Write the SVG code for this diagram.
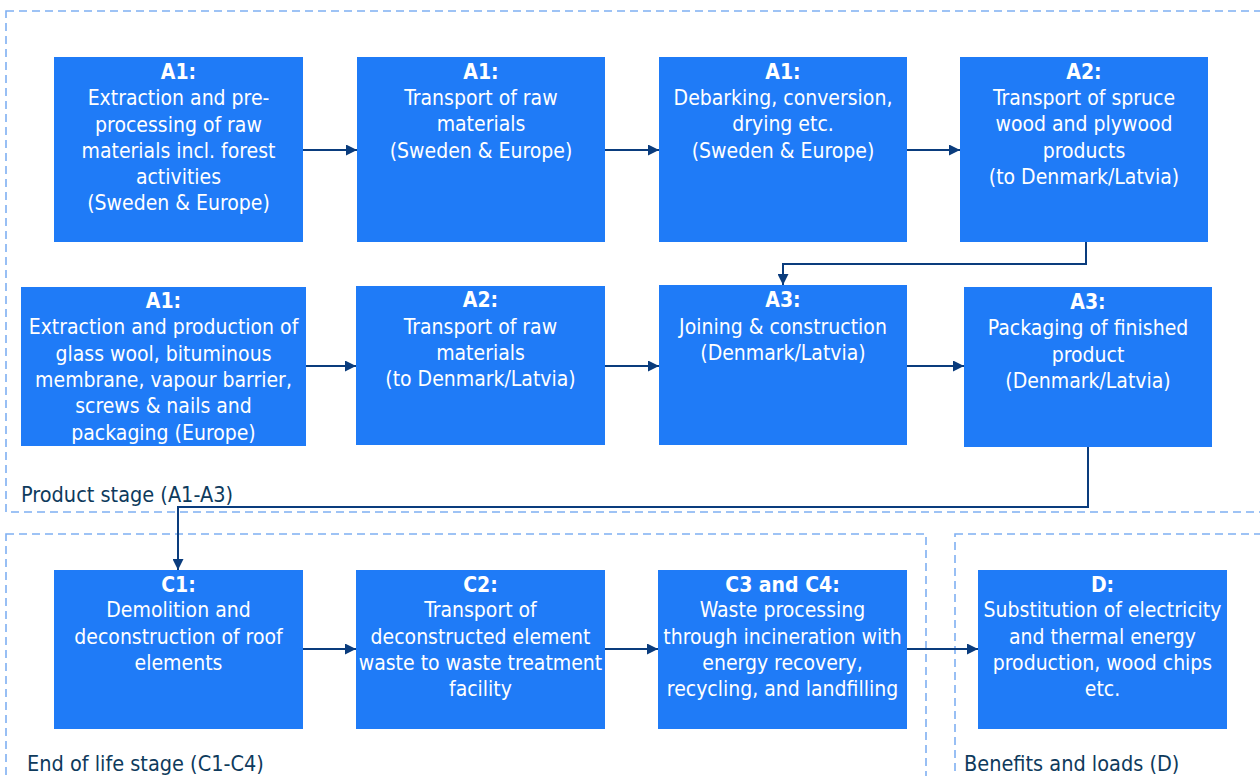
<svg xmlns="http://www.w3.org/2000/svg" width="1260" height="776" viewBox="0 0 1260 776">
<style>
.stage{fill:none;stroke:#7FB0F2;stroke-width:1.6;stroke-dasharray:8 5}
.box{fill:#1F7BF7}
.t{font-family:"DejaVu Sans Condensed","DejaVu Sans",sans-serif;font-size:21px;fill:#ffffff;text-anchor:middle}
.b{font-weight:bold}
.lbl{font-family:"DejaVu Sans Condensed","DejaVu Sans",sans-serif;font-size:21.5px;fill:#0E3A5C}
.c{fill:none;stroke:#0A3C7D;stroke-width:2;marker-end:url(#ah)}
</style>
<defs>
<marker id="ah" markerWidth="11" markerHeight="11" refX="11" refY="5.5" orient="auto" markerUnits="userSpaceOnUse">
<path d="M0,0 L11,5.5 L0,11 Z" fill="#0A3C7D"/>
</marker>
</defs>
<g id="stages">
<rect class="stage" x="6" y="11" width="1264" height="501"/>
<rect class="stage" x="6" y="534" width="920" height="260"/>
<rect class="stage" x="955" y="534" width="320" height="260"/>
<text class="lbl" x="21" y="502">Product stage (A1-A3)</text>
<text class="lbl" x="27" y="771">End of life stage (C1-C4)</text>
<text class="lbl" x="964" y="771">Benefits and loads (D)</text>
</g>
<g id="connectors">
<path class="c" d="M303,150 H357"/>
<path class="c" d="M605,150 H659"/>
<path class="c" d="M907,150 H960"/>
<path class="c" d="M1086,242 V264 H783 V285"/>
<path class="c" d="M306,366 H356"/>
<path class="c" d="M605,366 H659"/>
<path class="c" d="M907,366 H964"/>
<path class="c" d="M1088,447 V507 H178 V570"/>
<path class="c" d="M303,649 H356"/>
<path class="c" d="M605,649 H658"/>
<path class="c" d="M907,649 H978"/>
</g>
<g id="n1">
<rect class="box" x="54" y="57" width="249" height="185"/>
<text class="t"><tspan class="b" x="178.5" y="79">A1:</tspan><tspan x="178.5" y="105">Extraction and pre-</tspan><tspan x="178.5" y="132">processing of raw</tspan><tspan x="178.5" y="158">materials incl. forest</tspan><tspan x="178.5" y="184">activities</tspan><tspan x="178.5" y="210">(Sweden &amp; Europe)</tspan></text>
</g>
<g id="n2">
<rect class="box" x="357" y="57" width="248" height="185"/>
<text class="t"><tspan class="b" x="481" y="79">A1:</tspan><tspan x="481" y="105">Transport of raw</tspan><tspan x="481" y="131">materials</tspan><tspan x="481" y="158">(Sweden &amp; Europe)</tspan></text>
</g>
<g id="n3">
<rect class="box" x="659" y="57" width="248" height="185"/>
<text class="t"><tspan class="b" x="783" y="79">A1:</tspan><tspan x="783" y="105">Debarking, conversion,</tspan><tspan x="783" y="131">drying etc.</tspan><tspan x="783" y="158">(Sweden &amp; Europe)</tspan></text>
</g>
<g id="n4">
<rect class="box" x="960" y="57" width="248" height="185"/>
<text class="t"><tspan class="b" x="1084" y="79">A2:</tspan><tspan x="1084" y="105">Transport of spruce</tspan><tspan x="1084" y="131">wood and plywood</tspan><tspan x="1084" y="158">products</tspan><tspan x="1084" y="184">(to Denmark/Latvia)</tspan></text>
</g>
<g id="n5">
<rect class="box" x="21" y="287" width="285" height="159"/>
<text class="t"><tspan class="b" x="163.5" y="308">A1:</tspan><tspan x="163.5" y="334">Extraction and production of</tspan><tspan x="163.5" y="361">glass wool, bituminous</tspan><tspan x="163.5" y="387">membrane, vapour barrier,</tspan><tspan x="163.5" y="413">screws &amp; nails and</tspan><tspan x="163.5" y="440">packaging (Europe)</tspan></text>
</g>
<g id="n6">
<rect class="box" x="356" y="286" width="249" height="159"/>
<text class="t"><tspan class="b" x="480.5" y="307">A2:</tspan><tspan x="480.5" y="334">Transport of raw</tspan><tspan x="480.5" y="360">materials</tspan><tspan x="480.5" y="386">(to Denmark/Latvia)</tspan></text>
</g>
<g id="n7">
<rect class="box" x="659" y="285" width="248" height="160"/>
<text class="t"><tspan class="b" x="783" y="307">A3:</tspan><tspan x="783" y="334">Joining &amp; construction</tspan><tspan x="783" y="360">(Denmark/Latvia)</tspan></text>
</g>
<g id="n8">
<rect class="box" x="964" y="287" width="248" height="160"/>
<text class="t"><tspan class="b" x="1088" y="309">A3:</tspan><tspan x="1088" y="335">Packaging of finished</tspan><tspan x="1088" y="362">product</tspan><tspan x="1088" y="388">(Denmark/Latvia)</tspan></text>
</g>
<g id="n9">
<rect class="box" x="54" y="570" width="249" height="159"/>
<text class="t"><tspan class="b" x="178.5" y="592">C1:</tspan><tspan x="178.5" y="617">Demolition and</tspan><tspan x="178.5" y="644">deconstruction of roof</tspan><tspan x="178.5" y="670">elements</tspan></text>
</g>
<g id="n10">
<rect class="box" x="356" y="570" width="249" height="159"/>
<text class="t"><tspan class="b" x="480.5" y="592">C2:</tspan><tspan x="480.5" y="617">Transport of</tspan><tspan x="480.5" y="644">deconstructed element</tspan><tspan x="480.5" y="670">waste to waste treatment</tspan><tspan x="480.5" y="696">facility</tspan></text>
</g>
<g id="n11">
<rect class="box" x="658" y="570" width="249" height="159"/>
<text class="t"><tspan class="b" x="782.5" y="592">C3 and C4:</tspan><tspan x="782.5" y="617">Waste processing</tspan><tspan x="782.5" y="644">through incineration with</tspan><tspan x="782.5" y="670">energy recovery,</tspan><tspan x="782.5" y="696">recycling, and landfilling</tspan></text>
</g>
<g id="n12">
<rect class="box" x="978" y="570" width="249" height="159"/>
<text class="t"><tspan class="b" x="1102.5" y="592">D:</tspan><tspan x="1102.5" y="617">Substitution of electricity</tspan><tspan x="1102.5" y="644">and thermal energy</tspan><tspan x="1102.5" y="670">production, wood chips</tspan><tspan x="1102.5" y="696">etc.</tspan></text>
</g>
</svg>
